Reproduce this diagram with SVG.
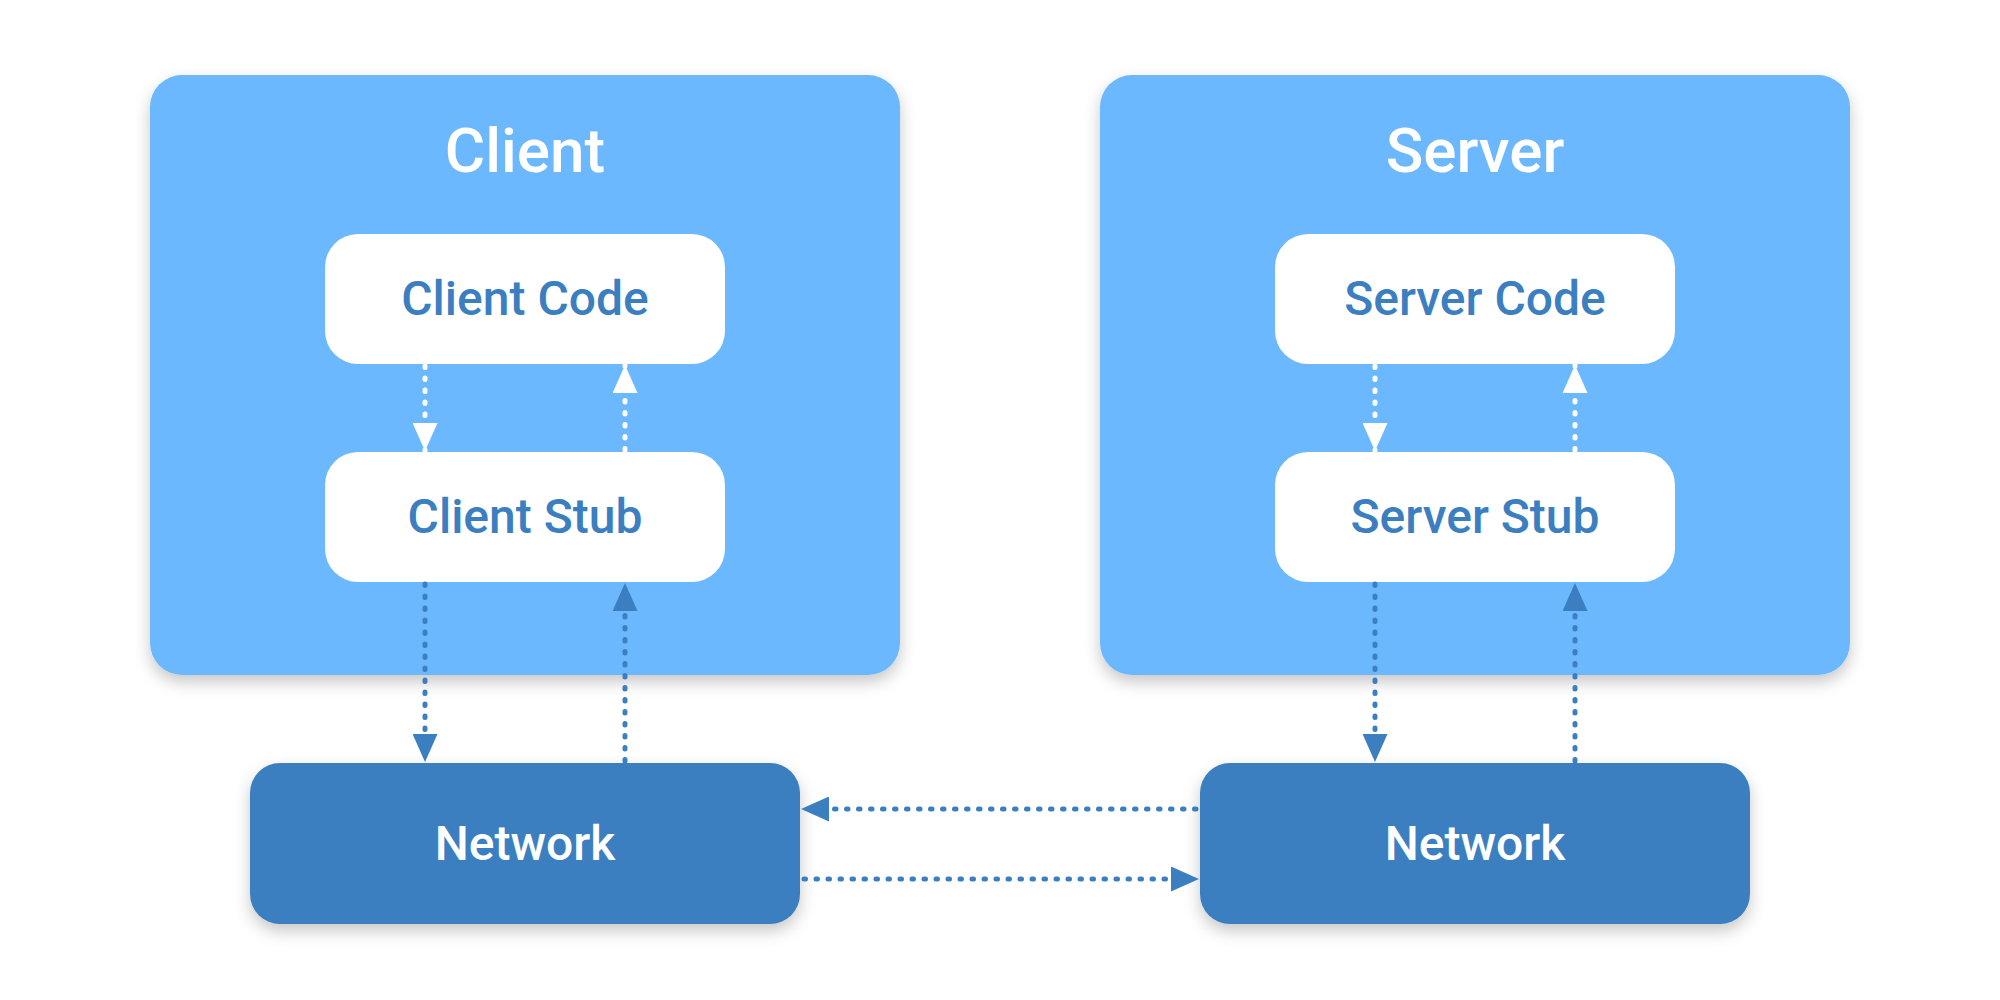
<svg xmlns="http://www.w3.org/2000/svg" width="2000" height="1000" viewBox="0 0 2000 1000">
<defs>
<filter id="sh" x="-10%" y="-10%" width="120%" height="130%">
<feDropShadow dx="0" dy="7" stdDeviation="8" flood-color="#000" flood-opacity="0.22"/>
</filter>
<marker id="ahW" viewBox="0 0 28 25" refX="28" refY="12.5" markerWidth="28" markerHeight="25" markerUnits="userSpaceOnUse" orient="auto">
<path d="M0,0 L28,12.5 L0,25 Z" fill="#ffffff"/>
</marker>
<marker id="ahB" viewBox="0 0 28 25" refX="28" refY="12.5" markerWidth="28" markerHeight="25" markerUnits="userSpaceOnUse" orient="auto">
<path d="M0,0 L28,12.5 L0,25 Z" fill="#3b7fc0"/>
</marker>
</defs>
<style>
.outer{fill:#6cb8fe;filter:url(#sh)}
.inner{fill:#ffffff}
.net{fill:#3b7fc0;filter:url(#sh)}
.title{font-family:Roboto,"Liberation Sans",sans-serif;font-weight:500;font-size:62px;fill:#ffffff;text-anchor:middle}
.lbl{font-family:Roboto,"Liberation Sans",sans-serif;font-weight:500;font-size:48px;fill:#3b7fc0;text-anchor:middle}
.nlbl{font-family:Roboto,"Liberation Sans",sans-serif;font-weight:500;font-size:48px;fill:#ffffff;text-anchor:middle}
.cw{stroke:#ffffff;stroke-width:5;stroke-linecap:round;stroke-dasharray:1.5 10.5;fill:none;marker-end:url(#ahW)}
.cb{stroke:#3b7fc0;stroke-width:5;stroke-linecap:round;stroke-dasharray:1.5 10.5;fill:none;marker-end:url(#ahB)}
</style>
<rect width="2000" height="1000" fill="#ffffff"/>
<g id="client">
<rect class="outer" x="150" y="75" width="750" height="600" rx="32"/>
<text class="title" x="525" y="172">Client</text>
</g>
<g id="server">
<rect class="outer" x="1100" y="75" width="750" height="600" rx="32"/>
<text class="title" x="1475" y="172">Server</text>
</g>
<g id="client-code">
<rect class="inner" x="325" y="234" width="400" height="130" rx="33"/>
<text class="lbl" x="525" y="315">Client Code</text>
</g>
<g id="client-stub">
<rect class="inner" x="325" y="452" width="400" height="130" rx="33"/>
<text class="lbl" x="525" y="533">Client Stub</text>
</g>
<g id="server-code">
<rect class="inner" x="1275" y="234" width="400" height="130" rx="33"/>
<text class="lbl" x="1475" y="315">Server Code</text>
</g>
<g id="server-stub">
<rect class="inner" x="1275" y="452" width="400" height="130" rx="33"/>
<text class="lbl" x="1475" y="533">Server Stub</text>
</g>
<g id="client-network">
<rect class="net" x="250" y="763" width="550" height="161" rx="30"/>
<text class="nlbl" x="525" y="860">Network</text>
</g>
<g id="server-network">
<rect class="net" x="1200" y="763" width="550" height="161" rx="30"/>
<text class="nlbl" x="1475" y="860">Network</text>
</g>
<g id="connectors">
<line class="cw" x1="425" y1="366" x2="425" y2="451"/>
<line class="cw" x1="625" y1="450" x2="625" y2="365"/>
<line class="cw" x1="1375" y1="366" x2="1375" y2="451"/>
<line class="cw" x1="1575" y1="450" x2="1575" y2="365"/>
<line class="cb" x1="425" y1="584" x2="425" y2="762"/>
<line class="cb" x1="625" y1="761" x2="625" y2="583"/>
<line class="cb" x1="1375" y1="584" x2="1375" y2="762"/>
<line class="cb" x1="1575" y1="761" x2="1575" y2="583"/>
<line class="cb" x1="1196" y1="809" x2="801" y2="809"/>
<line class="cb" x1="804" y1="879" x2="1199" y2="879"/>
</g>
</svg>
